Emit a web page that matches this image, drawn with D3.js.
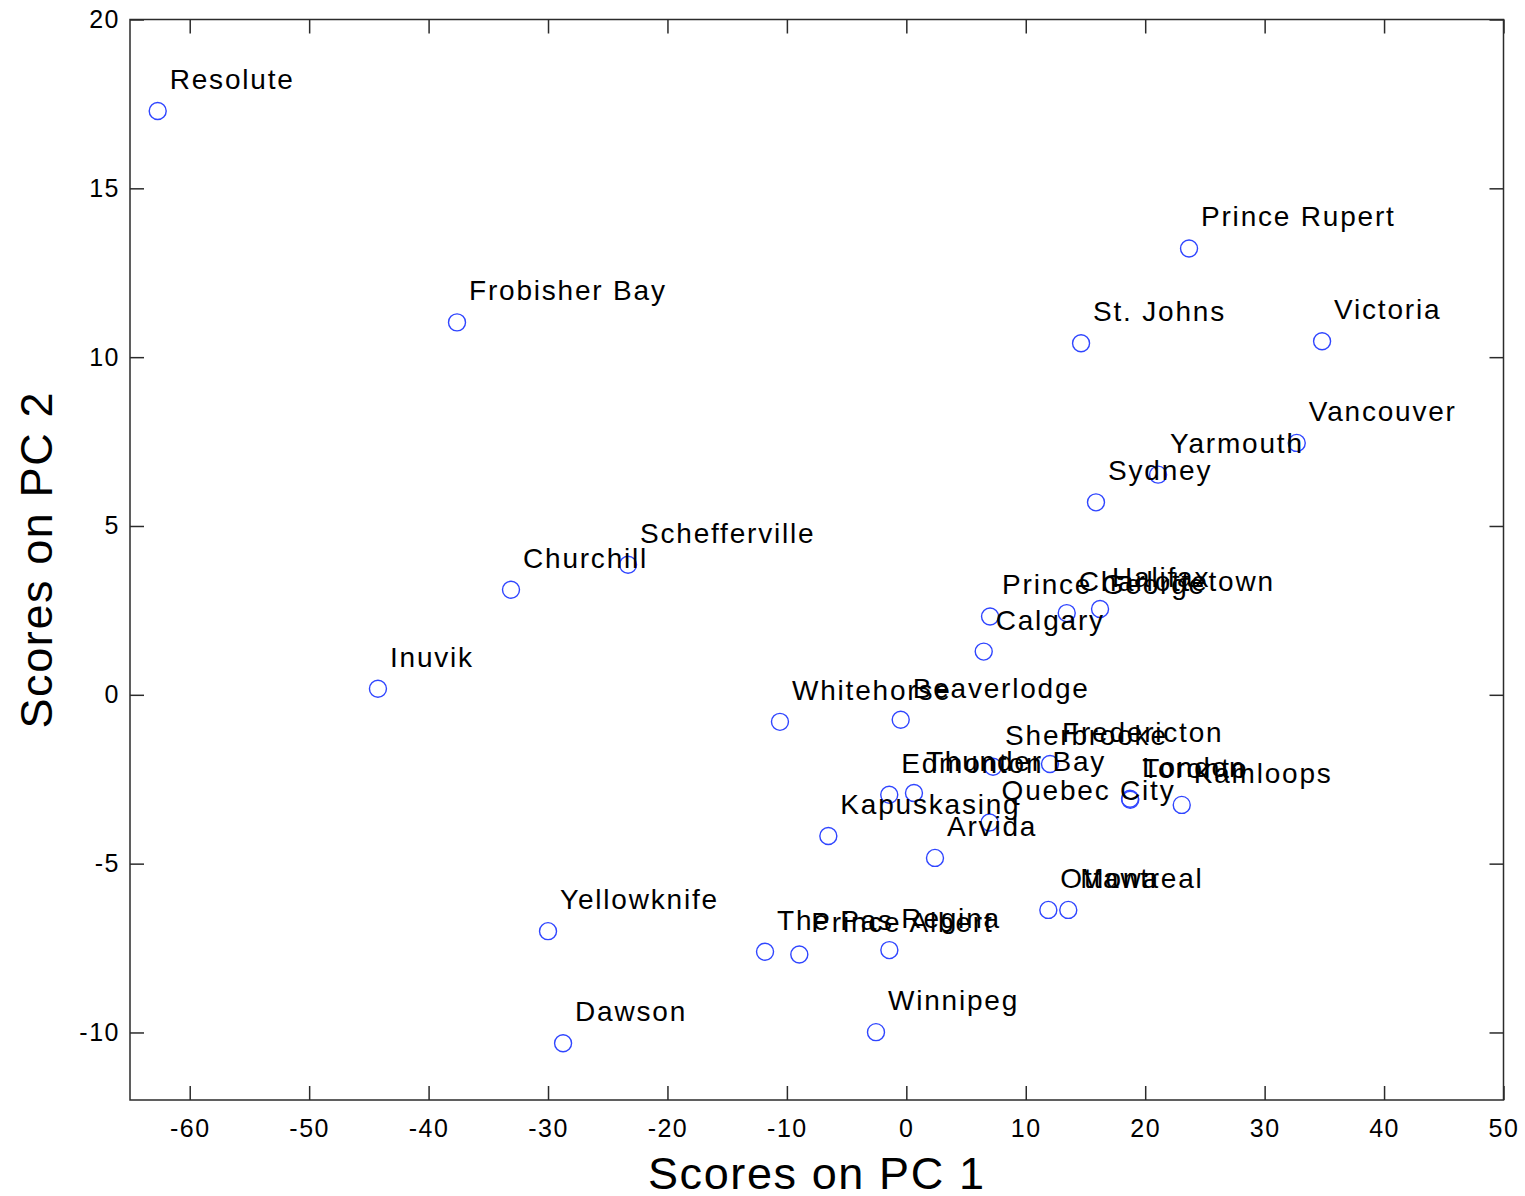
<!DOCTYPE html>
<html>
<head>
<meta charset="utf-8">
<script src="https://cdn.jsdelivr.net/npm/d3@7"></script>
<style>
  html, body { margin: 0; padding: 0; background: #fff; }
  svg { display: block; }
  text { font-family: "Liberation Sans", Arial, Helvetica, sans-serif; fill: #000; }
</style>
</head>
<body>
<svg id="chart" width="1525" height="1196"></svg>
<script>
const cities = ["Resolute","Frobisher Bay","Churchill","Schefferville","Inuvik","Whitehorse","Beaverlodge",
  "Yellowknife","Dawson","The Pas","Prince Albert","Regina","Winnipeg","Kapuskasing","Edmonton","Thunder Bay",
  "Arvida","Quebec City","Sherbrooke","Fredericton","London","Toronto","Kamloops","Ottawa","Montreal",
  "Calgary","Prince George","Charlottetown","Halifax","Sydney","Yarmouth","Vancouver","Victoria","St. Johns","Prince Rupert"];
const pc1 = [-62.68,-37.62,-33.10,-23.30,-44.24,-10.58,-0.47,
  -30.00,-28.74,-11.83,-8.96,-1.42,-2.54,-6.53,-1.43,0.64,
  2.40,6.97,7.26,12.03,18.73,18.75,23.06,11.89,13.56,
  6.48,7.01,13.43,16.22,15.88,21.08,32.69,34.81,14.63,23.67];
const pc2 = [17.29,11.03,3.11,3.85,0.18,-0.80,-0.74,
  -7.00,-10.32,-7.61,-7.69,-7.56,-9.99,-4.18,-2.96,-2.91,
  -4.83,-3.78,-2.13,-2.05,-3.08,-3.11,-3.26,-6.37,-6.37,
  1.28,2.32,2.42,2.54,5.70,6.52,7.46,10.47,10.41,13.22];
const xTicks = [-60,-50,-40,-30,-20,-10,0,10,20,30,40,50];
const yTicks = [-10,-5,0,5,10,15,20];
const xDomain = [-65, 50];
const yDomain = [-12, 20];
const xTitle = "Scores on PC 1";
const yTitle = "Scores on PC 2";

const svg = d3.select("#chart");
const L = 130, R = 1503.5, T = 19.5, B = 1100;
const x = d3.scaleLinear().domain(xDomain).range([L, R]);
const y = d3.scaleLinear().domain(yDomain).range([B, T]);
const axisColor = "#2b2b2b";
const tickLen = 14;
const fmt = d => String(d);

// frame
svg.append("rect").attr("x", L).attr("y", T).attr("width", R - L).attr("height", B - T)
  .attr("fill", "none").attr("stroke", axisColor).attr("stroke-width", 1.5);

const styleAxis = g => {
  g.select(".domain").remove();
  g.selectAll(".tick line").attr("stroke", axisColor).attr("stroke-width", 1.5);
};
const styleText = g => g.selectAll(".tick text").attr("font-size", 25).attr("letter-spacing", 1.5)
  .attr("font-family", "Liberation Sans, Arial, sans-serif").attr("fill", "#000");

svg.append("g").attr("transform", `translate(0,${B})`)
  .call(d3.axisBottom(x).tickValues(xTicks).tickSizeInner(-tickLen).tickSizeOuter(0).tickPadding(19).tickFormat(fmt))
  .call(styleAxis).call(styleText);
svg.append("g").attr("transform", `translate(0,${T})`)
  .call(d3.axisTop(x).tickValues(xTicks).tickSizeInner(-tickLen).tickSizeOuter(0).tickFormat(""))
  .call(styleAxis);
svg.append("g").attr("transform", `translate(${L},0)`)
  .call(d3.axisLeft(y).tickValues(yTicks).tickSizeInner(-tickLen).tickSizeOuter(0).tickPadding(10).tickFormat(fmt))
  .call(styleAxis).call(styleText);
svg.append("g").attr("transform", `translate(${R},0)`)
  .call(d3.axisRight(y).tickValues(yTicks).tickSizeInner(-tickLen).tickSizeOuter(0).tickFormat(""))
  .call(styleAxis);

// points
const idx = d3.range(cities.length);
svg.append("g").selectAll("circle").data(idx).join("circle")
  .attr("cx", i => x(pc1[i])).attr("cy", i => y(pc2[i])).attr("r", 8.5)
  .attr("fill", "none").attr("stroke", "#2f45ff").attr("stroke-width", 1.4);

// labels
svg.append("g").selectAll("text").data(idx).join("text")
  .attr("x", i => x(pc1[i]) + 12).attr("y", i => y(pc2[i]) - 22)
  .attr("font-size", 28).attr("letter-spacing", 1.8)
  .text(i => cities[i]);

// titles
svg.append("text").attr("x", (L + R) / 2).attr("y", 1189).attr("text-anchor", "middle")
  .attr("font-size", 45).attr("letter-spacing", 1.6).text(xTitle);
svg.append("text").attr("transform", `translate(52,${(T + B) / 2}) rotate(-90)`).attr("text-anchor", "middle")
  .attr("font-size", 45).attr("letter-spacing", 1.6).text(yTitle);
</script>
</body>
</html>
